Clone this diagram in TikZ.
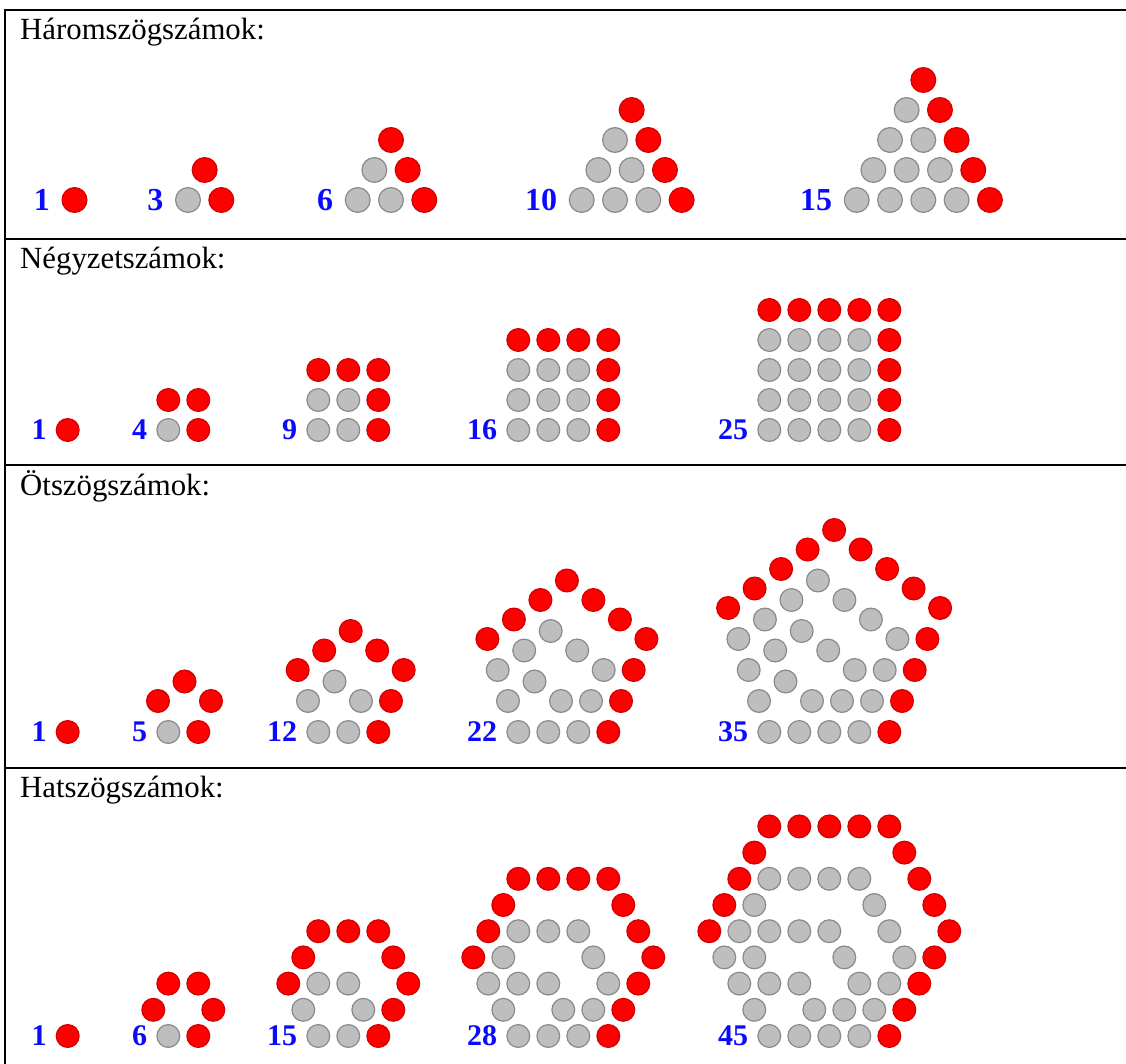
\documentclass[tikz,border=0pt]{standalone}
\usepackage{fontspec}
\setmainfont{Liberation Serif}
\definecolor{dotred}{HTML}{FF0000}
\definecolor{dotredline}{HTML}{D20000}
\definecolor{dotgrey}{HTML}{BEBEBE}
\definecolor{dotgreyline}{HTML}{8A8A8A}
\definecolor{numblue}{HTML}{0A0AFF}
\newcommand\MyNumFont{\bfseries\fontsize{30}{30}\selectfont}
\newcommand\MyBigNumFont{\bfseries\fontsize{32}{32}\selectfont}
\newcommand\MyTitleFont{\fontsize{30.8}{36}\selectfont}

% triangular numbers: #1 n, #2 x of bottom-left dot, #3 label, #4 name
\newcommand\TriNum[4]{%
  \node[bignum] (#4-n) at ({#2-24.5},200) {#3};
  \pgfmathtruncatemacro\tnm{#1-1}%
  \foreach \j in {0,...,\tnm}{%
    \pgfmathtruncatemacro\tmax{\tnm-\j}%
    \foreach \i in {0,...,\tmax}{%
      \ifnum\i=\tmax \def\pc{red}\else\def\pc{grey}\fi
      \node[dot, tdot, dotc=\pc] (#4-\j-\i) at ({#2+16.65*\j+33.3*\i},{200-30*\j}) {};
    }%
  }%
}
% square numbers
\newcommand\SqNum[4]{%
  \node[num] (#4-n) at ({#2-21},430) {#3};
  \pgfmathtruncatemacro\snm{#1-1}%
  \foreach \j in {0,...,\snm}{%
    \foreach \i in {0,...,\snm}{%
      \pgfmathtruncatemacro\sred{max(\i,\j)==\snm}%
      \ifnum\sred=1 \def\pc{red}\else\def\pc{grey}\fi
      \node[dot, dotc=\pc] (#4-\j-\i) at ({#2+30*\i},{430-30*\j}) {};
    }%
  }%
}
% pentagonal numbers
\newcommand\PentNum[4]{%
  \node[num] (#4-n) at ({#2-21},732) {#3};
  \pgfmathtruncatemacro\pnm{#1-1}%
  \ifnum\pnm=0
    \node[dot, dotc=red] (#4-0) at (#2,732) {};
  \else
    \node[dot, dotc=grey] (#4-0) at (#2,732) {};
    \foreach \k in {1,...,\pnm}{%
      \ifnum\k=\pnm \def\pc{red}\else\def\pc{grey}\fi
      \node[dot, dotc=\pc] (#4-\k-b) at ({#2+30*\k},732) {};
      \foreach \t in {1,...,\k}{%
        \node[dot, dotc=\pc] (#4-\k-r\t) at ({#2+30*\k+12.7*\t},{732-31*\t}) {};
        \node[dot, dotc=\pc] (#4-\k-u\t) at ({#2+42.7*\k-26.5*\t},{732-31*\k-19.5*\t}) {};
        \node[dot, dotc=\pc] (#4-\k-l\t) at ({#2+16.2*\k-26.5*\t},{732-50.5*\k+19.5*\t}) {};
      }%
    }%
  \fi
}
% hexagonal numbers
\newcommand\HexNum[4]{%
  \node[num] (#4-n) at ({#2-21},1036) {#3};
  \pgfmathtruncatemacro\hnm{#1-1}%
  \ifnum\hnm=0
    \node[dot, dotc=red] (#4-0) at (#2,1036) {};
  \else
    \node[dot, dotc=grey] (#4-0) at (#2,1036) {};
    \foreach \k in {1,...,\hnm}{%
      \ifnum\k=\hnm \def\pc{red}\else\def\pc{grey}\fi
      \node[dot, dotc=\pc] (#4-\k-b) at ({#2+30*\k},1036) {};
      \foreach \t in {1,...,\k}{%
        \node[dot, dotc=\pc] (#4-\k-a\t) at ({#2+30*\k+15*\t},{1036-26.2*\t}) {};
        \node[dot, dotc=\pc] (#4-\k-c\t) at ({#2+45*\k-15*\t},{1036-26.2*\k-26.2*\t}) {};
        \node[dot, dotc=\pc] (#4-\k-d\t) at ({#2+30*\k-30*\t},{1036-52.4*\k}) {};
        \node[dot, dotc=\pc] (#4-\k-e\t) at ({#2-15*\t},{1036-52.4*\k+26.2*\t}) {};
      }%
    }%
  \fi
}

\begin{document}
\begin{tikzpicture}[x=1pt,y=-1pt,
  dot/.style={circle, inner sep=0pt, minimum size=22.8pt, line width=1.2pt},
  dotc/.style={fill=dot#1, draw=dot#1line},
  tdot/.style={minimum size=24.8pt},
  num/.style={text=numblue, font=\MyNumFont, anchor=east, inner sep=0pt},
  bignum/.style={num, font=\MyBigNumFont},
  title/.style={font=\MyTitleFont, anchor=base west, inner sep=0pt},
  rule/.style={line width=2.4pt}]
\useasboundingbox (0,0) rectangle (1126,1064);
\fill[white] (0,0) rectangle (1126,1064);

% table rules
\draw[rule] (4,10) -- (1126,10);
\draw[rule] (5,9) -- (5,1064);
\draw[rule] (5,239) -- (1126,239);
\draw[rule] (5,465) -- (1126,465);
\draw[rule] (5,768) -- (1126,768);

% titles
\node[title] (title1) at (20,39.3) {Háromszögszámok:};
\node[title] (title2) at (20,268.5) {Négyzetszámok:};
\node[title] (title3) at (20,495) {Ötszögszámok:};
\node[title] (title4) at (20,797.3) {Hatszögszámok:};

% triangular
\TriNum{1}{74.5}{1}{ta}
\TriNum{2}{188}{3}{tb}
\TriNum{3}{357.7}{6}{tc}
\TriNum{4}{581.7}{10}{td}
\TriNum{5}{856.7}{15}{te}

% square
\SqNum{1}{67.7}{1}{sa}
\SqNum{2}{168.3}{4}{sb}
\SqNum{3}{318.3}{9}{sc}
\SqNum{4}{518.3}{16}{sd}
\SqNum{5}{769.3}{25}{se}

% pentagonal
\PentNum{1}{67.7}{1}{pa}
\PentNum{2}{168.3}{5}{pb}
\PentNum{3}{318.3}{12}{pc}
\PentNum{4}{518.3}{22}{pd}
\PentNum{5}{769.3}{35}{pe}

% hexagonal
\HexNum{1}{67.7}{1}{ha}
\HexNum{2}{168.3}{6}{hb}
\HexNum{3}{318.3}{15}{hc}
\HexNum{4}{518.3}{28}{hd}
\HexNum{5}{769.3}{45}{he}
\end{tikzpicture}
\end{document}
